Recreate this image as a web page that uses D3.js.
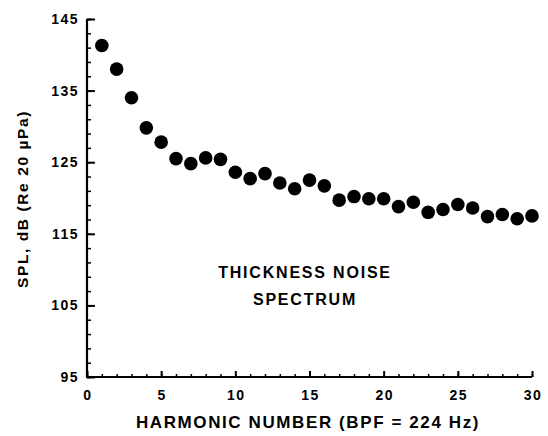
<!DOCTYPE html>
<html>
<head>
<meta charset="utf-8">
<script src="https://cdn.jsdelivr.net/npm/d3@7"></script>
<style>
  body { margin: 0; background: #fff; }
  text { font-family: "Liberation Sans", Arial, Helvetica, sans-serif; font-weight: bold; fill: #000; }
</style>
</head>
<body>
<svg id="chart" width="548" height="436"></svg>
<script>
// harmonic number vs SPL
var harmonics = [1,2,3,4,5,6,7,8,9,10,11,12,13,14,15,16,17,18,19,20,21,22,23,24,25,26,27,28,29,30];
var spl = [141.3,138.0,134.0,129.8,127.8,125.5,124.8,125.6,125.4,123.6,122.7,123.4,122.1,121.3,122.5,121.7,
           119.7,120.2,119.9,119.9,118.8,119.4,118.0,118.4,119.1,118.6,117.4,117.7,117.1,117.5];
var xTicks = [0,5,10,15,20,25,30];
var yTicks = [95,105,115,125,135,145];
var xLabel = "HARMONIC NUMBER (BPF = 224 Hz)";
var yLabel = "SPL, dB (Re 20 \u00b5Pa)";
var noteLines = ["THICKNESS NOISE", "SPECTRUM"];

var svg = d3.select("#chart");
var mLeft = 87, mRight = 532, mTop = 19, mBottom = 377;

var x = d3.scaleLinear().domain([0, 30]).range([mLeft, mRight]);
var y = d3.scaleLinear().domain([95, 145]).range([mBottom, mTop]);

// y axis: major ticks every 10, minor every 2, pointing inward
var yMinor = d3.range(95, 146, 2).concat([145]);
svg.append("g")
  .attr("transform", "translate(" + mLeft + ",0)")
  .call(d3.axisRight(y).tickValues(yMinor).tickSize(4).tickFormat(""))
  .call(function(g){ g.select(".domain").remove(); })
  .selectAll("line").attr("stroke", "#000").attr("stroke-width", 1.5);

svg.append("g")
  .attr("transform", "translate(" + mLeft + ",0)")
  .call(d3.axisRight(y).tickValues(yTicks).tickSize(8).tickFormat(""))
  .call(function(g){ g.select(".domain").remove(); })
  .selectAll("line").attr("stroke", "#000").attr("stroke-width", 2);

// x axis: major every 5, minor every 1, pointing up
svg.append("g")
  .attr("transform", "translate(0," + mBottom + ")")
  .call(d3.axisTop(x).ticks(30).tickSize(3).tickFormat(""))
  .call(function(g){ g.select(".domain").remove(); })
  .selectAll("line").attr("stroke", "#000").attr("stroke-width", 1.5);

svg.append("g")
  .attr("transform", "translate(0," + mBottom + ")")
  .call(d3.axisTop(x).tickValues(xTicks).tickSize(6).tickFormat(""))
  .call(function(g){ g.select(".domain").remove(); })
  .selectAll("line").attr("stroke", "#000").attr("stroke-width", 2);

// axis lines
svg.append("path")
  .attr("d", "M" + mLeft + "," + mTop + "V" + mBottom + "H" + mRight)
  .attr("fill", "none")
  .attr("stroke", "#000")
  .attr("stroke-width", 2.2);

// tick labels
svg.append("g").selectAll("text")
  .data(yTicks)
  .enter().append("text")
  .attr("x", mLeft - 8)
  .attr("y", function(d){ return y(d) + 5; })
  .attr("text-anchor", "end")
  .style("font-size", "14px")
  .style("letter-spacing", "1.5px")
  .text(function(d){ return d; });

svg.append("g").selectAll("text")
  .data(xTicks)
  .enter().append("text")
  .attr("x", function(d){ return x(d) + 1; })
  .attr("y", mBottom + 23)
  .attr("text-anchor", "middle")
  .style("font-size", "14px")
  .style("letter-spacing", "1.5px")
  .text(function(d){ return d; });

// axis titles
svg.append("text")
  .attr("x", 308)
  .attr("y", 428)
  .attr("text-anchor", "middle")
  .style("font-size", "17px")
  .style("letter-spacing", "1.6px")
  .text(xLabel);

svg.append("text")
  .attr("transform", "translate(28,199) rotate(-90)")
  .attr("text-anchor", "middle")
  .style("font-size", "15.5px")
  .style("letter-spacing", "1.6px")
  .text(yLabel);

// annotation
svg.append("g").selectAll("text")
  .data(noteLines)
  .enter().append("text")
  .attr("x", 305)
  .attr("y", function(d, i){ return 278 + i * 27; })
  .attr("text-anchor", "middle")
  .style("font-size", "16px")
  .style("letter-spacing", "1.8px")
  .text(function(d){ return d; });

// data points
svg.append("g").selectAll("circle")
  .data(harmonics)
  .enter().append("circle")
  .attr("cx", function(d){ return x(d); })
  .attr("cy", function(d, i){ return y(spl[i]); })
  .attr("r", 6.8)
  .attr("fill", "#000");
</script>
</body>
</html>
